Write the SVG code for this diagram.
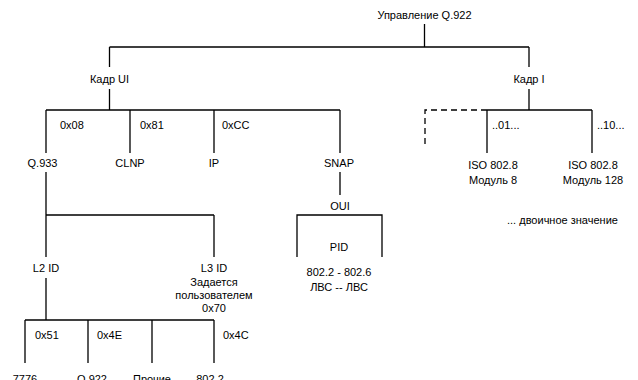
<svg xmlns="http://www.w3.org/2000/svg" width="638" height="380" viewBox="0 0 638 380">
<style>
text{font-family:"Liberation Sans",Arial,sans-serif;font-size:11px;fill:#000}
.c{text-anchor:middle}
.l{fill:none;stroke:#000;stroke-width:1.3}
.d{fill:none;stroke:#000;stroke-width:1.3;stroke-dasharray:6 4}
</style>
<rect width="638" height="380" fill="#fff"/>
<g id="connectors">
<path class="l" d="M424.5 24V47M109.5 47H529M109.5 47V67M109.5 89V110M529 47V67M529 89V110"/>
<path class="l" d="M46 110H340M46 110V153M130 110V153M214 110V153M340 110V153"/>
<path class="l" d="M487 110H592M487 110V153M592 110V153"/>
<path class="d" d="M487 110H425V148"/>
<path class="l" d="M46 172V215H214M46 215V257M214 215V257"/>
<path class="l" d="M340 172V195M297 257V215H382V257"/>
<path class="l" d="M46 278V320M25 320H214M25 320V363M88 320V363M152 320V363M214 320V363"/>
</g>
<g id="root"><text class="c" x="424.5" y="19">Управление Q.922</text></g>
<g id="ui"><text class="c" x="109.5" y="83">Кадр UI</text></g>
<g id="i"><text class="c" x="529" y="83">Кадр I</text></g>
<g id="labels1">
<text x="60" y="129">0x08</text>
<text x="140" y="129">0x81</text>
<text x="222" y="129">0xCC</text>
<text x="492" y="129">..01...</text>
<text x="597" y="129">..10...</text>
</g>
<g id="q933"><text class="c" x="42.5" y="167">Q.933</text></g>
<g id="clnp"><text class="c" x="130" y="167">CLNP</text></g>
<g id="ip"><text class="c" x="214" y="167">IP</text></g>
<g id="snap"><text class="c" x="339" y="167">SNAP</text></g>
<g id="iso8"><text class="c" x="493" y="169">ISO 802.8</text><text class="c" x="493" y="184">Модуль 8</text></g>
<g id="iso128"><text class="c" x="593" y="169">ISO 802.8</text><text class="c" x="593" y="184">Модуль 128</text></g>
<g id="oui"><text class="c" x="340" y="210">OUI</text></g>
<g id="legend"><text x="507" y="224">... двоичное значение</text></g>
<g id="pid"><text class="c" x="339" y="251">PID</text></g>
<g id="lan"><text class="c" x="339" y="276">802.2 - 802.6</text><text class="c" x="339" y="291">ЛВС -- ЛВС</text></g>
<g id="l2"><text class="c" x="46" y="272">L2 ID</text></g>
<g id="l3"><text class="c" x="214" y="272">L3 ID</text><text class="c" x="214" y="286">Задается</text><text class="c" x="214" y="299">пользователем</text><text class="c" x="214" y="312">0x70</text></g>
<g id="labels2">
<text x="35" y="339">0x51</text>
<text x="97" y="339">0x4E</text>
<text x="223" y="339">0x4C</text>
</g>
<g id="n7776"><text class="c" x="25" y="383">7776</text></g>
<g id="nq922"><text class="c" x="92" y="383">Q.922</text></g>
<g id="other"><text class="c" x="152" y="383">Прочие</text></g>
<g id="n8022"><text class="c" x="210" y="383">802.2</text></g>
</svg>
